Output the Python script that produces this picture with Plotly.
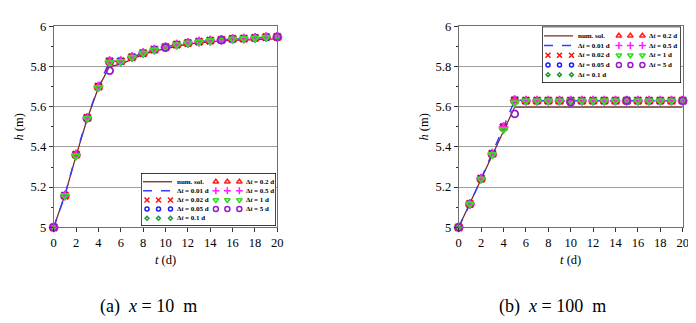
import plotly.graph_objects as go

W, H = 696, 323

# time axis (d)
t = list(range(21))
t_5d = [0, 5, 10, 15, 20]

# (a) x = 10 m
h_num_a = [5.0, 5.16, 5.355, 5.54, 5.695, 5.80, 5.812, 5.838, 5.86, 5.876, 5.889,
           5.901, 5.912, 5.918, 5.924, 5.927, 5.930, 5.932, 5.935, 5.936, 5.937]
h_dt_a = [5.0, 5.158, 5.362, 5.544, 5.70, 5.826, 5.826, 5.847, 5.867, 5.884, 5.896,
          5.909, 5.917, 5.924, 5.929, 5.932, 5.937, 5.939, 5.942, 5.946, 5.947]
h_dt1_a = [5.0, 5.158, 5.355, 5.542, 5.695, 5.82, 5.824, 5.845, 5.866, 5.883, 5.895,
           5.908, 5.916, 5.923, 5.928, 5.932, 5.936, 5.938, 5.941, 5.945, 5.946]
h_dt5_a = [5.0, 5.779, 5.894, 5.932, 5.947]

# (b) x = 100 m
h_num_b = [5.0, 5.12, 5.24, 5.36, 5.48, 5.598, 5.598, 5.598, 5.598, 5.598, 5.598,
           5.598, 5.598, 5.598, 5.598, 5.598, 5.598, 5.598, 5.598, 5.598, 5.598]
h_dt_b = [5.0, 5.116, 5.242, 5.366, 5.498, 5.632, 5.63, 5.63, 5.63, 5.63, 5.63,
          5.63, 5.63, 5.63, 5.63, 5.63, 5.63, 5.63, 5.63, 5.63, 5.63]
h_dt1_b = [5.0, 5.116, 5.24, 5.362, 5.486, 5.619, 5.629, 5.629, 5.629, 5.629, 5.629,
           5.629, 5.629, 5.629, 5.629, 5.629, 5.629, 5.629, 5.629, 5.629, 5.629]
h_dt5_b = [5.0, 5.564, 5.622, 5.63, 5.63]

FONT = "Liberation Serif"

# label, kind, style
SERIES = [
    ("num. sol.", "line", dict(color="#7a2a2a", width=1.3)),
    ("Δ<i>t</i> = 0.01 d", "line", dict(color="#3b3bff", width=1.5, dash="dash")),
    ("Δ<i>t</i> = 0.02 d", "mark", dict(symbol="x-thin-open", color="#ff1010", size=7, line=dict(width=2.4))),
    ("Δ<i>t</i> = 0.05 d", "mark", dict(symbol="circle-open", color="#1a1aff", size=6, line=dict(width=1.8))),
    ("Δ<i>t</i> = 0.1 d", "mark", dict(symbol="diamond-open", color="#1f9a3a", size=5, line=dict(width=1.8))),
    ("Δ<i>t</i> = 0.2 d", "mark", dict(symbol="triangle-up-open", color="#ff2020", size=7, line=dict(width=1.8))),
    ("Δ<i>t</i> = 0.5 d", "mark", dict(symbol="cross-thin-open", color="#ff20ff", size=7, line=dict(width=2))),
    ("Δ<i>t</i> = 1 d", "mark", dict(symbol="triangle-down-open", color="#33dd22", size=7, line=dict(width=1.8))),
    ("Δ<i>t</i> = 5 d", "mark", dict(symbol="circle-open", color="#9a1ad0", size=7, line=dict(width=1.8))),
]
# legend order (row-major, two columns)
LEGEND_ORDER = [0, 5, 1, 6, 2, 7, 3, 8, 4]

panels = [
    dict(xa="x", ya="y", box=(45.7, 18.3, 269.3, 219.3), legend=(133, 165, 268, 218),
         num=h_num_a, dt=h_dt_a, dt1=h_dt1_a, dt5=h_dt5_a, lx="x3", ly="y3",
         caption="(a)  <i>x</i> = 10  m", cap_x=140),
    dict(xa="x2", ya="y2", box=(450.7, 18.3, 674.7, 219.3), legend=(534, 18.5, 673, 75),
         num=h_num_b, dt=h_dt_b, dt1=h_dt1_b, dt5=h_dt5_b, lx="x4", ly="y4",
         caption="(b)  <i>x</i> = 100  m", cap_x=544),
]


def px_dom(x0, y0, x1, y1):
    return [x0 / W, x1 / W], [1 - y1 / H, 1 - y0 / H]


fig = go.Figure()
annotations = []
shapes = []
layout = {}

for p in panels:
    ys = {0: p["num"], 1: p["dt"], 2: p["dt"], 3: p["dt"], 4: p["dt"],
          5: p["dt"], 6: p["dt"], 7: p["dt1"]}
    for i, (label, kind, st) in enumerate(SERIES):
        if kind == "line":
            fig.add_trace(go.Scatter(x=t, y=ys[i], mode="lines", line=st,
                                     xaxis=p["xa"], yaxis=p["ya"], showlegend=False))
        else:
            xs, yv = (t_5d, p["dt5"]) if i == 8 else (t, ys[i])
            fig.add_trace(go.Scatter(x=xs, y=yv, mode="markers", marker=st, cliponaxis=False,
                                     xaxis=p["xa"], yaxis=p["ya"], showlegend=False))

    xd, yd = px_dom(*p["box"])
    n = "" if p["xa"] == "x" else "2"
    layout["xaxis" + n] = dict(
        domain=xd, anchor=p["ya"], range=[0, 20], dtick=2, tick0=0, ticks="outside",
        ticklen=4, tickcolor="#333", showline=True, mirror=True, linecolor="#707070",
        linewidth=1, showgrid=False, zeroline=False, automargin=False,
        tickfont=dict(family=FONT, size=12.5, color="black"),
        title=dict(text="<i>t</i> (d)", font=dict(family=FONT, size=12.5, color="black"), standoff=5))
    layout["yaxis" + n] = dict(
        domain=yd, anchor=p["xa"], range=[5, 6], dtick=0.2, tick0=5, ticks="outside",
        ticklen=4, tickcolor="#333", showline=True, mirror=True, linecolor="#707070",
        linewidth=1, showgrid=True, gridcolor="#a0a0a0", gridwidth=1, zeroline=False,
        automargin=False, minor=dict(dtick=0.1, ticks="outside", ticklen=2, tickcolor="#333"),
        tickfont=dict(family=FONT, size=12.5, color="black"),
        title=dict(text="<i>h</i> (m)", font=dict(family=FONT, size=12.5, color="black"), standoff=4))

    # hand-made legend box
    lx0, ly0, lx1, ly1 = p["legend"]
    bw, bh = lx1 - lx0, ly1 - ly0
    lxd, lyd = px_dom(*p["legend"])
    ln = p["lx"][1:]
    layout["xaxis" + ln] = dict(domain=lxd, anchor=p["ly"], range=[0, bw], visible=False, fixedrange=True)
    layout["yaxis" + ln] = dict(domain=lyd, anchor=p["lx"], range=[bh, 0], visible=False, fixedrange=True)
    shapes.append(dict(type="rect", xref=p["lx"], yref=p["ly"], x0=0, x1=bw, y0=0, y1=bh,
                       line=dict(color="black", width=1.4), fillcolor="white", layer="below"))
    for k, i in enumerate(LEGEND_ORDER):
        label, kind, st = SERIES[i]
        cx = 0 if k % 2 == 0 else bw * 0.51
        ry = bh * (0.165 + 0.172 * (k // 2))
        if kind == "line":
            fig.add_trace(go.Scatter(x=[cx + 2, cx + 31], y=[ry, ry], mode="lines", line=st,
                                     xaxis=p["lx"], yaxis=p["ly"], showlegend=False, hoverinfo="skip"))
        else:
            m = dict(st)
            m["size"] = st["size"] - 2
            m["line"] = dict(width=1.5, color=st["color"])
            fig.add_trace(go.Scatter(x=[cx + 6, cx + 17.5, cx + 29.5], y=[ry] * 3, mode="markers",
                                     marker=m, xaxis=p["lx"], yaxis=p["ly"], showlegend=False,
                                     hoverinfo="skip"))
        annotations.append(dict(x=cx + 34, y=ry, xref=p["lx"], yref=p["ly"], text="<b>" + label + "</b>",
                                showarrow=False, xanchor="left", yanchor="middle",
                                font=dict(family=FONT, size=7, color="black")))

    annotations.append(dict(x=p["cap_x"] / W, y=1 - 298 / H,
                            xref="paper", yref="paper", text=p["caption"], showarrow=False,
                            xanchor="center", yanchor="middle",
                            font=dict(family=FONT, size=18, color="black")))

fig.update_layout(
    width=W, height=H, margin=dict(l=0, r=0, t=0, b=0),
    template="none", plot_bgcolor="white", paper_bgcolor="white",
    font=dict(family=FONT, color="black"),
    showlegend=False, annotations=annotations, shapes=shapes, **layout)

fig.write_html("out.html")
